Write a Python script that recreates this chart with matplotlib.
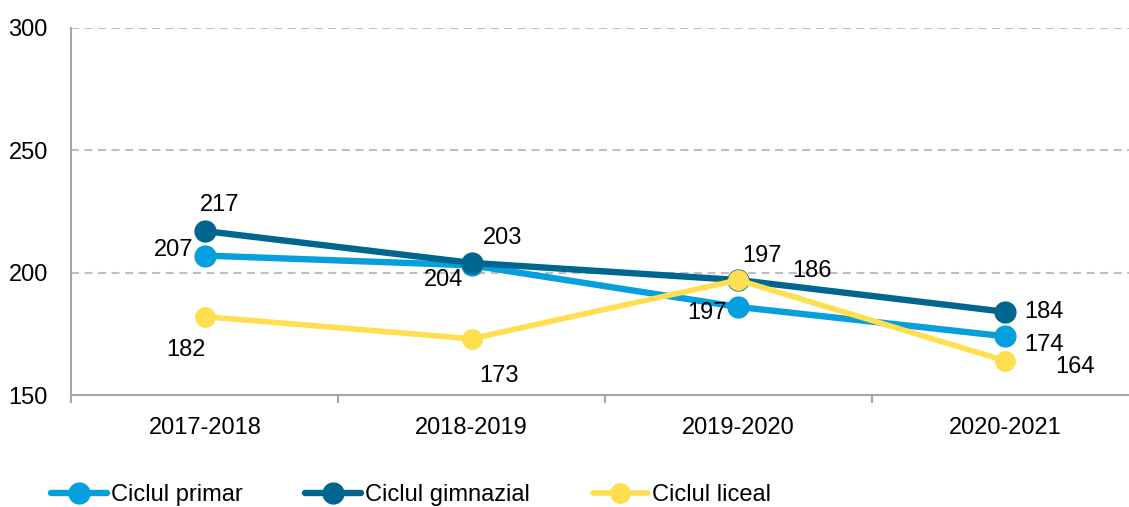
import numpy as np
import matplotlib
matplotlib.use("Agg")
import matplotlib.pyplot as plt

# data
years = ['2017-2018', '2018-2019', '2019-2020', '2020-2021']
primar = [207, 203, 186, 174]
gimnazial = [217, 204, 197, 184]
liceal = [182, 173, 197, 164]

# data labels as written in the source chart
primar_labels = ['207', '204', '197', '174']
gimnazial_labels = ['217', '203', '186', '184']
liceal_labels = ['182', '173', '197', '164']

series_names = ['Ciclul primar', 'Ciclul gimnazial', 'Ciclul liceal']

plt.rcParams['font.family'] = ['Liberation Sans', 'DejaVu Sans']
plt.rcParams['font.size'] = 17

colors = ['#069FDD', '#00658F', '#FFDF4F']
# label offsets in pixels (dx, dy), per point
offsets = [
    [(-31, 6), (-28, -15), (-31, -6), (39, -9)],
    [(15, 26), (31, 25), (74, 9), (39, 0)],
    [(-19, -33), (27, -37), (24, 24), (70, -6)],
]

fig = plt.figure(figsize=(11.29, 5.07), dpi=100)
ax = fig.add_axes([0.0633, 0.2209, 0.945, 0.7239])

x = np.arange(len(years))
all_vals = [primar, gimnazial, liceal]
all_labels = [primar_labels, gimnazial_labels, liceal_labels]
for i, (vals, labs, name, col) in enumerate(zip(all_vals, all_labels, series_names, colors)):
    lw = 4.6 if i < 2 else 4.0
    ms = 15 if i < 2 else 14
    ax.plot(x, vals, color=col, lw=lw, marker='o', markersize=ms,
            label=name, zorder=3 + i, solid_capstyle='round')
    for j, (v, t) in enumerate(zip(vals, labs)):
        dx, dy = offsets[i][j]
        ax.annotate(t, (x[j], v), xytext=(dx, dy), textcoords='offset pixels',
                    ha='center', va='center', fontsize=17, color='black', zorder=10)

ax.set_xlim(-0.5, 3.5)
ax.set_ylim(150, 300)
ax.set_yticks([150, 200, 250, 300])
ax.set_xticks(x)
ax.set_xticklabels(years)
ax.set_xticks(np.arange(-0.5, 3.6, 1), minor=True)
ax.tick_params(axis='x', which='major', length=0, pad=16)
ax.tick_params(axis='x', which='minor', length=6, width=1.5, color='#A6A6A6', direction='out')
ax.tick_params(axis='y', length=0, pad=17)

for yv in [200, 250, 300]:
    ax.axhline(yv, color='#BFBFBF', lw=1.5, dashes=(3.8, 2.7), zorder=1)

for s in ['top', 'right']:
    ax.spines[s].set_visible(False)
for s in ['left', 'bottom']:
    ax.spines[s].set_color('#A6A6A6')
    ax.spines[s].set_linewidth(1.5)

fig.legend(loc='center left', bbox_to_anchor=(0.045, 0.024), ncol=3, frameon=False,
           handlelength=2.37, handletextpad=0.17, columnspacing=2.65, fontsize=17,
           borderaxespad=0, borderpad=0)

fig.set_facecolor('#FFFFFF')
plt.savefig('out.png', dpi=100)
